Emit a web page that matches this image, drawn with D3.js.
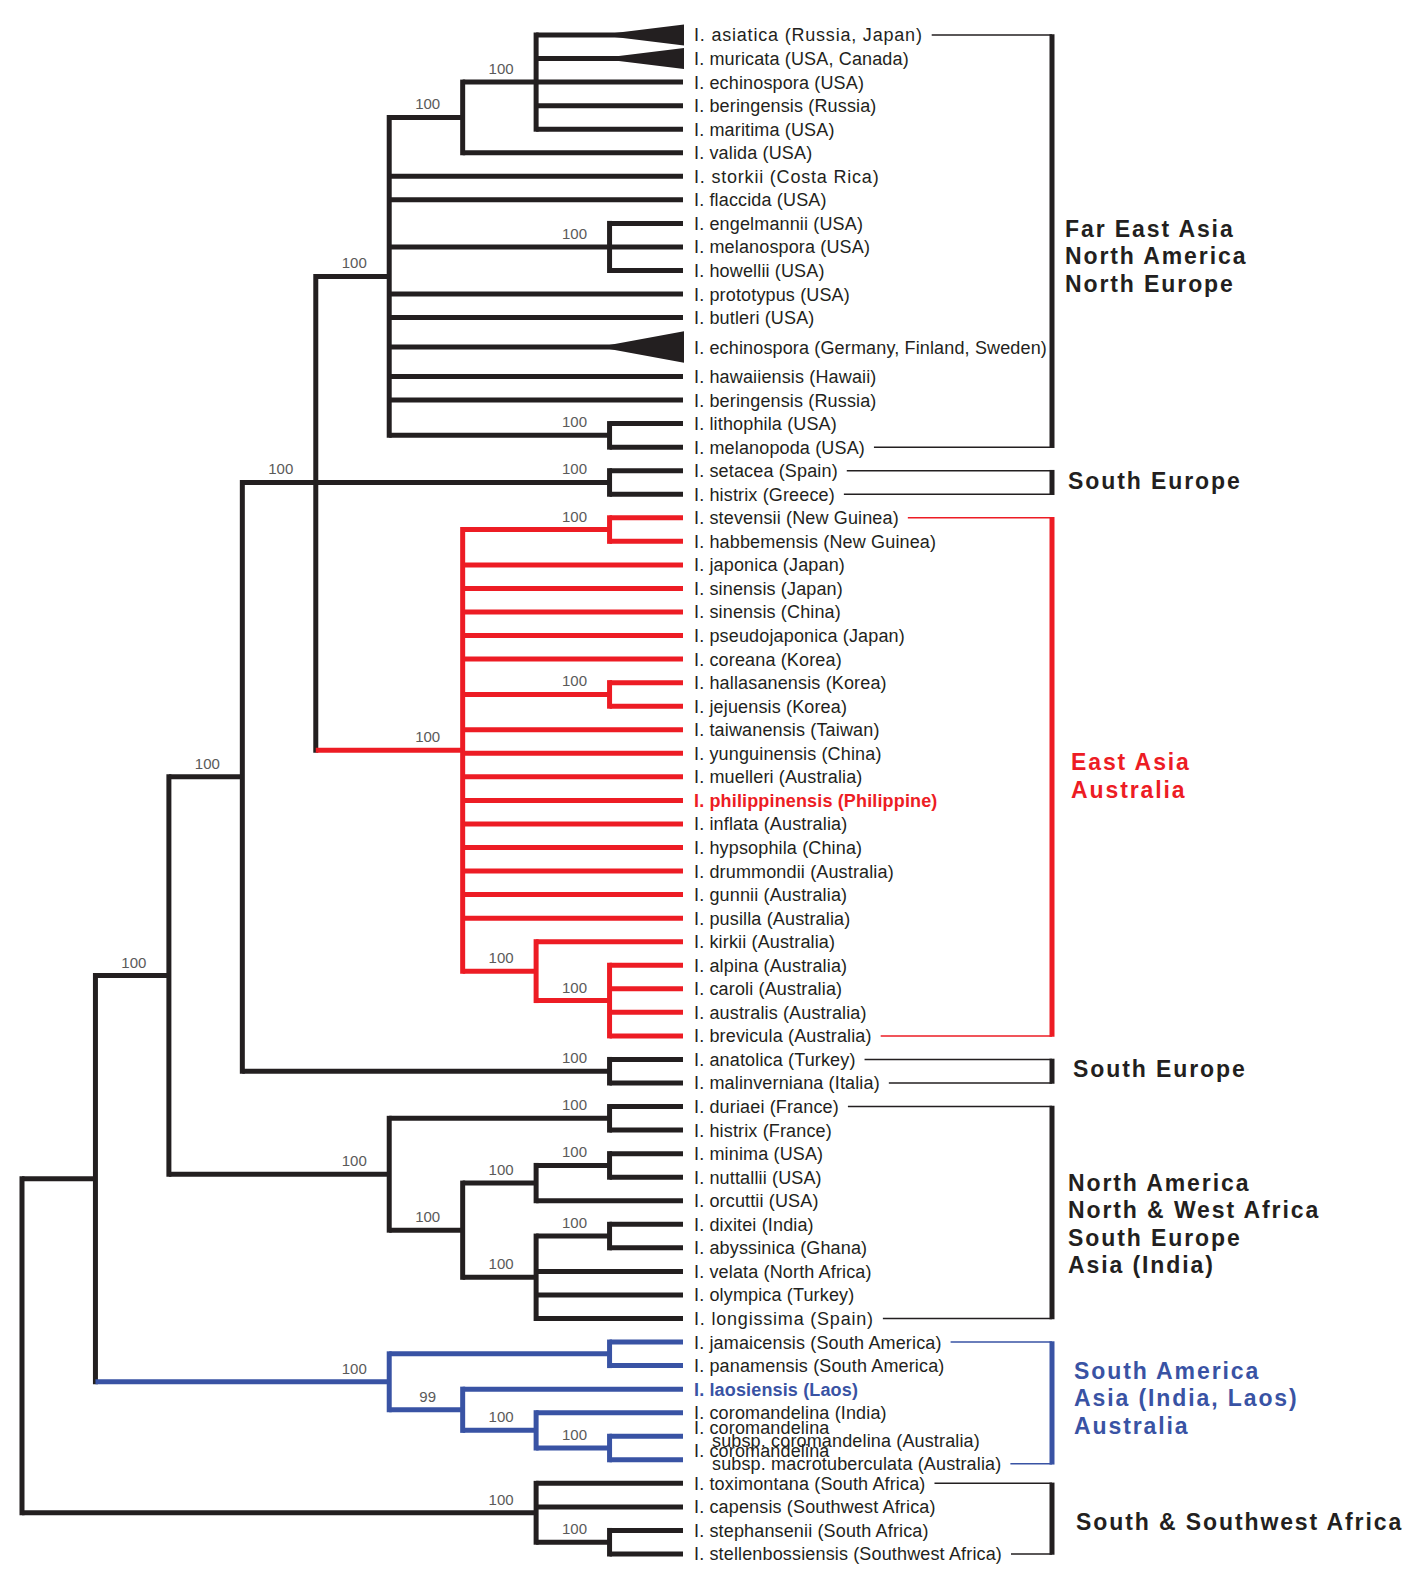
<!DOCTYPE html>
<html><head><meta charset="utf-8">
<script src="https://cdn.jsdelivr.net/npm/d3@7"></script>
<style>body{margin:0;background:#fff} svg{display:block}</style>
</head><body>
<svg id="chart" width="1414" height="1576"></svg>
<script>
// ---------------- DATA ----------------
const leafNames = [
  "I. asiatica (Russia, Japan)", "I. muricata (USA, Canada)", "I. echinospora (USA)", "I. beringensis (Russia)",
  "I. maritima (USA)", "I. valida (USA)", "I. storkii (Costa Rica)", "I. flaccida (USA)", "I. engelmannii (USA)",
  "I. melanospora (USA)", "I. howellii (USA)", "I. prototypus (USA)", "I. butleri (USA)",
  "I. echinospora (Germany, Finland, Sweden)", "I. hawaiiensis (Hawaii)", "I. beringensis (Russia)",
  "I. lithophila (USA)", "I. melanopoda (USA)",
  "I. setacea (Spain)", "I. histrix (Greece)",
  "I. stevensii (New Guinea)", "I. habbemensis (New Guinea)", "I. japonica (Japan)", "I. sinensis (Japan)",
  "I. sinensis (China)", "I. pseudojaponica (Japan)", "I. coreana (Korea)", "I. hallasanensis (Korea)",
  "I. jejuensis (Korea)", "I. taiwanensis (Taiwan)", "I. yunguinensis (China)", "I. muelleri (Australia)",
  "I. philippinensis (Philippine)", "I. inflata (Australia)", "I. hypsophila (China)", "I. drummondii (Australia)",
  "I. gunnii (Australia)", "I. pusilla (Australia)", "I. kirkii (Australia)", "I. alpina (Australia)",
  "I. caroli (Australia)", "I. australis (Australia)", "I. brevicula (Australia)",
  "I. anatolica (Turkey)", "I. malinverniana (Italia)",
  "I. duriaei (France)", "I. histrix (France)", "I. minima (USA)", "I. nuttallii (USA)", "I. orcuttii (USA)",
  "I. dixitei (India)", "I. abyssinica (Ghana)", "I. velata (North Africa)", "I. olympica (Turkey)",
  "I. longissima (Spain)",
  "I. jamaicensis (South America)", "I. panamensis (South America)", "I. laosiensis (Laos)",
  "I. coromandelina (India)", "I. coromandelina|subsp. coromandelina (Australia)",
  "I. coromandelina|subsp. macrotuberculata (Australia)",
  "I. toximontana (South Africa)", "I. capensis (Southwest Africa)", "I. stephansenii (South Africa)",
  "I. stellenbossiensis (Southwest Africa)"
];

// Topology (leaf indices, bootstrap support after ')', '^' = parent drawn through this child)
const farEastClade   = "(((0,1,2,3,4)100,5)100,6,7,(8,9,10)100,11,12,13,14,15,(16,17)100)100";
const southEurope1   = "(18,19)100^";
const eastAsiaClade  = "((20,21)100,22,23,24,25,26,(27,28)100,29,30,31,32,33,34,35,36,37,(38,(39,40,41,42)100)100)100";
const southEurope2   = "(43,44)100";
const naAfricaClade  = "((45,46)100,(((47,48)100,49)100,((50,51)100,52,53,54)100)100)100";
const southAmClade   = "((55,56),(57,(58,(59,60)100)100)99)100";
const southAfrClade  = "(61,62,(63,64)100)100";
const topology = `(((((${farEastClade},${southEurope1},${eastAsiaClade})100,${southEurope2})100,${naAfricaClade})100,${southAmClade}),${southAfrClade});`;

const collapsedLeaves = [0, 1, 13];
const wideLeaves = [13];
const boldLeaves = [32, 57];
const spacedLeaves = [0, 6, 54];

const regionFrom  = [0, 18, 20, 43, 45, 55, 61];
const regionTo    = [17, 19, 42, 44, 54, 60, 64];
const regionLines = [
  ["Far East Asia", "North America", "North Europe"],
  ["South Europe"],
  ["East Asia", "Australia"],
  ["South Europe"],
  ["North America", "North & West Africa", "South Europe", "Asia (India)"],
  ["South America", "Asia (India, Laos)", "Australia"],
  ["South & Southwest Africa"]
];
const regionColors = ["#231f20", "#231f20", "#ed1c24", "#231f20", "#231f20", "#3953a4", "#231f20"];

// layout tweaks (not data)
const regionLabelDy = [15, -2, -1, -2, 11, -5, 3];
const regionLabelDx = [0, 3, 6, 8, 3, 9, 11];

// ---------------- PARSE ----------------
function parseNewick(s) {
  let i = 0;
  function node() {
    const n = {};
    if (s[i] === '(') {
      i++; n.children = [];
      do { n.children.push(node()); } while (s[i] === ',' && ++i);
      i++; // ')'
    } else {
      let t = ''; while (/[0-9]/.test(s[i])) t += s[i++];
      n.leaf = +t; return n;
    }
    let sup = ''; while (/[0-9]/.test(s[i])) sup += s[i++];
    if (sup) n.support = +sup;
    if (s[i] === '^') { n.anchor = true; i++; }
    return n;
  }
  return node();
}

const W = 1414, H = 1576;
const BLACK = "#231f20";
const svg = d3.select('#chart');
svg.append('rect').attr('width', W).attr('height', H).attr('fill', '#fff');

const root = d3.hierarchy(parseNewick(topology), d => d.children);
const leaves = root.leaves();
let slot = 0, prevW = null;
leaves.forEach(n => {
  const w = wideLeaves.includes(n.data.leaf) ? 1.5 : 1;
  if (prevW !== null) slot += (prevW + w) / 2;
  n.slot = slot; n.w = w; prevW = w;
});
const y = d3.scaleLinear().domain([0, slot]).range([35, 1554]);

root.eachAfter(n => {
  if (!n.children) {
    n.h = collapsedLeaves.includes(n.data.leaf) ? 1 : 0;
    n.py = y(n.slot);
  } else {
    n.h = 1 + d3.max(n.children, c => c.h);
    const a = n.children.find(c => c.data.anchor);
    n.py = a ? a.py : (n.children[0].py + n.children[n.children.length - 1].py) / 2;
  }
});
const x = d3.scaleLinear().domain([0, root.h]).range([683, 22]);

root.each(n => {
  const ls = n.leaves().map(d => d.data.leaf);
  const r = regionFrom.findIndex((f, k) => ls.every(l => l >= f && l <= regionTo[k]));
  n.color = r >= 0 ? regionColors[r] : BLACK;
});

const SW = 5;
const gTree = svg.append('g');
// verticals
gTree.selectAll('line.v').data(root.descendants().filter(n => n.children)).join('line')
  .attr('class', 'v')
  .attr('x1', n => x(n.h)).attr('x2', n => x(n.h))
  .attr('y1', n => n.children[0].py).attr('y2', n => n.children[n.children.length - 1].py)
  .attr('stroke', n => n.color).attr('stroke-width', SW).attr('stroke-linecap', 'square');
// horizontals
gTree.selectAll('line.h').data(root.descendants().filter(n => n.parent)).join('line')
  .attr('class', 'h')
  .attr('x1', n => x(n.parent.h)).attr('x2', n => n.children ? x(n.h) : x(0))
  .attr('y1', n => n.py).attr('y2', n => n.py)
  .attr('stroke', n => n.color).attr('stroke-width', SW);
// collapsed triangles
gTree.selectAll('path.tri').data(leaves.filter(n => collapsedLeaves.includes(n.data.leaf))).join('path')
  .attr('class', 'tri')
  .attr('d', n => `M${x(1.15)},${n.py}L${x(0) + 1},${n.py - 10.5 * n.w}L${x(0) + 1},${n.py + 10.5 * n.w}Z`)
  .attr('fill', BLACK);

// bootstrap values
svg.append('g').selectAll('text').data(root.descendants().filter(n => n.data.support != null)).join('text')
  .attr('x', n => x(n.h) - 35).attr('y', n => n.py - 8)
  .attr('text-anchor', 'middle')
  .attr('font-family', '"Liberation Sans", Arial, sans-serif').attr('font-size', 15)
  .attr('fill', '#5a5a5a').text(n => n.data.support);

// leaf labels
const LX = 694;
const gLab = svg.append('g').attr('font-family', '"Liberation Sans", Arial, sans-serif').attr('font-size', 18);
leaves.forEach(n => {
  const idx = n.data.leaf;
  const parts = leafNames[idx].split('|');
  const bold = boldLeaves.includes(idx);
  const t = gLab.append('text').attr('fill', bold ? n.color : BLACK).attr('font-weight', bold ? 'bold' : null)
    .attr('letter-spacing', spacedLeaves.includes(idx) ? 0.8 : 0.15);
  if (parts.length === 1) {
    t.attr('x', LX).attr('y', n.py).attr('dy', '0.36em').text(parts[0]);
    n.textEnd = LX + t.node().getComputedTextLength();
  } else {
    const a = t.append('tspan').attr('x', LX).attr('y', n.py - 9).attr('dy', '0.36em').text(parts[0]);
    const b = t.append('tspan').attr('x', LX + 18).attr('y', n.py + 4).attr('dy', '0.36em').text(parts[1]);
    n.textEnd = Math.max(LX + a.node().getComputedTextLength(), LX + 18 + b.node().getComputedTextLength());
    n.connY = n.py + 4;
  }
});

// region brackets
const BX = 1052;
const gReg = svg.append('g');
regionFrom.forEach((f, k) => {
  const top = leaves.find(n => n.data.leaf === f);
  const bot = leaves.find(n => n.data.leaf === regionTo[k]);
  const c = regionColors[k];
  const yt = top.connY || top.py, yb = bot.connY || bot.py;
  gReg.append('line').attr('x1', top.textEnd + 9).attr('x2', BX).attr('y1', yt).attr('y2', yt)
    .attr('stroke', c).attr('stroke-width', 1.5);
  gReg.append('line').attr('x1', bot.textEnd + 9).attr('x2', BX).attr('y1', yb).attr('y2', yb)
    .attr('stroke', c).attr('stroke-width', 1.5);
  gReg.append('line').attr('x1', BX).attr('x2', BX).attr('y1', yt - 0.75).attr('y2', yb + 0.75)
    .attr('stroke', c).attr('stroke-width', 5);
  const lines = regionLines[k];
  const LH = 27.5;
  const cy = (yt + yb) / 2 + regionLabelDy[k];
  const t = gReg.append('text').attr('font-family', '"Liberation Sans", Arial, sans-serif')
    .attr('font-size', 23).attr('font-weight', 'bold').attr('letter-spacing', 1.9).attr('fill', c);
  lines.forEach((ln, j) => {
    t.append('tspan').attr('x', BX + 13 + regionLabelDx[k]).attr('y', cy + (j - (lines.length - 1) / 2) * LH)
      .attr('dy', '0.36em').text(ln);
  });
});
</script>
</body></html>
